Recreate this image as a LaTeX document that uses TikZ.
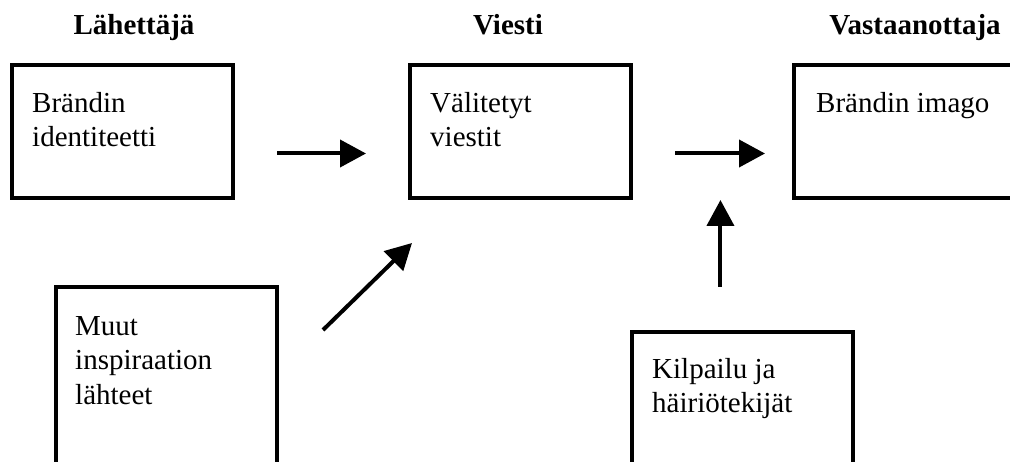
\documentclass[tikz,border=0pt]{standalone}
\usepackage{fontspec}
\setmainfont{Liberation Serif}
\usetikzlibrary{arrows.meta, positioning, calc}

\begin{document}
\begin{tikzpicture}[
  x=1pt, y=-1pt,
  font=\fontsize{29}{34.5}\selectfont,
  box/.style={draw=black, line width=4pt, minimum width=221pt, minimum height=133pt,
              inner sep=0pt},
  tallbox/.style={box, minimum height=220pt},
  txt/.style={align=left, inner sep=0pt},
  head/.style={font=\fontsize{29}{34.5}\selectfont\bfseries, inner sep=0pt, anchor=base},
  ar/.style={-{Triangle[length=26pt, width=27pt]}, line width=4pt},
]
\path[use as bounding box] (0,0) rectangle (1010,462);
\clip (0,0) rectangle (1010,462);

%% upper row
\node[box] (b1) at (122.5,131.5) {};
\node[box, right=173pt of b1] (b2) {};
\node[box, right=159pt of b2] (b3) {};

%% lower row
\node[tallbox, below right=85pt and 44pt of b1.south west] (b4) {};
\node[tallbox, below right=130pt and 222pt of b2.south west] (b5) {};

%% headings
\node[head] (h1) at (134,35) {Lähettäjä};
\node[head] (h2) at (508,35) {Viesti};
\node[head] (h3) at (915,35) {Vastaanottaja};

%% box texts
\node[txt, below right=29pt and 22pt of b1.north west] (t1) {Brändin\\identiteetti};
\node[txt, below right=29pt and 22pt of b2.north west] (t2) {Välitetyt\\viestit};
\node[txt, below right=29pt and 24pt of b3.north west] (t3) {Brändin imago};
\node[txt, below right=31pt and 21pt of b4.north west] (t4) {Muut\\inspiraation\\lähteet};
\node[txt, below right=28pt and 22pt of b5.north west] (t5) {Kilpailu ja\\häiriötekijät};

\coordinate (join) at ($(b2.south east)!0.55!(b3.south west)$);

\draw[ar, shorten <=42pt, shorten >=42pt] ([yshift=-22pt]b1.east) -- ([yshift=-22pt]b2.west);
\draw[ar, shorten <=42pt, shorten >=27pt] ([yshift=-22pt]b2.east) -- ([yshift=-22pt]b3.west);
\draw[ar] ([shift={(44,45)}]b4.north east) -- ([shift={(4,43)}]b2.south west);
\draw[ar] (b5.north -| join) ++(0,-43) -- (join);
\end{tikzpicture}
\end{document}
